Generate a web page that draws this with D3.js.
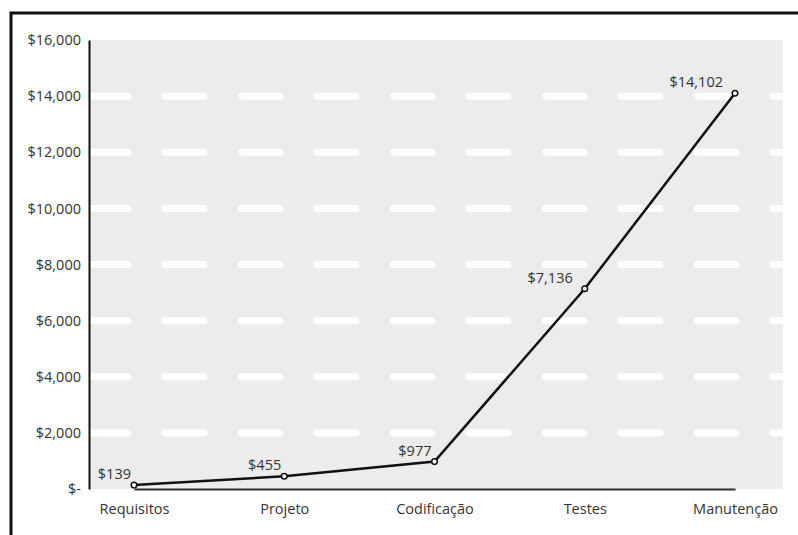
<!DOCTYPE html>
<html>
<head>
<meta charset="utf-8">
<script src="https://cdn.jsdelivr.net/npm/d3@7"></script>
<style>
    body { margin: 0; background: #fff; }
    svg { display: block; }
    text { font-family: "Open Sans", "Noto Sans", sans-serif; fill: #333; }
</style>
</head>
<body>
<svg id="chart" width="798" height="535"></svg>
<script>
// donnees du graphique
const phases = ["Requisitos", "Projeto", "Codificação", "Testes", "Manutenção"];
const costs = [139, 455, 977, 7136, 14102];
const yTicks = [0, 2000, 4000, 6000, 8000, 10000, 12000, 14000, 16000];

const svgWidth = 798, svgHeight = 535;
const margin = { top: 40, bottom: 46, left: 89, right: 15 };
const graphWidth = svgWidth - margin.left - margin.right;
const graphHeight = svgHeight - margin.top - margin.bottom;
const fontFamily = "'Open Sans', 'Noto Sans', sans-serif";

const svg = d3.select("#chart");

// cadre exterieur
svg.append("path")
    .attr("d", `M11,${svgHeight + 5} L11,13 L${svgWidth + 5},13`)
    .attr("fill", "none")
    .attr("stroke", "#111")
    .attr("stroke-width", 3);

const container = svg.append("g")
    .attr("transform", `translate(${margin.left}, ${margin.top})`);

svg.append("clipPath").attr("id", "plotClip")
    .append("rect")
    .attr("x", margin.left).attr("y", margin.top - 10)
    .attr("width", graphWidth).attr("height", graphHeight + 10);

// echelles
const scaleX = d3.scalePoint()
    .domain(phases)
    .range([45, graphWidth - 48]);

const scaleY = d3.scaleLinear()
    .domain([0, 16000])
    .range([graphHeight, 0]);

// fond gris
container.append("rect")
    .attr("width", graphWidth)
    .attr("height", graphHeight)
    .attr("fill", "#ececec");

// lignes horizontales en tirets blancs
const grid = container.append("g").attr("clip-path", "url(#plotClip)")
    .attr("transform", `translate(${-margin.left}, ${-margin.top})`);
grid.selectAll("line")
    .data(yTicks.filter(d => d > 0 && d < 16000))
    .enter()
    .append("line")
    .attr("x1", margin.left)
    .attr("x2", margin.left + graphWidth)
    .attr("y1", d => margin.top + scaleY(d))
    .attr("y2", d => margin.top + scaleY(d))
    .attr("stroke", "#fff")
    .attr("stroke-width", 7)
    .attr("stroke-linecap", "round")
    .attr("stroke-dasharray", "39,37");

// axe Y
const fmt = d => d === 0 ? "$-" : "$" + d3.format(",")(d);
const svgYaxis = container.append("g")
    .call(d3.axisLeft(scaleY).tickValues(yTicks).tickFormat(fmt).tickSize(0).tickPadding(8));
svgYaxis.select(".domain").attr("stroke", "#111").attr("stroke-width", 2);
svgYaxis.selectAll("text")
    .style("font-size", "14.5px")
    .style("font-family", fontFamily)
    .attr("fill", "#333");

// axe X
const svgXaxis = container.append("g")
    .attr("transform", `translate(0, ${graphHeight})`)
    .call(d3.axisBottom(scaleX).tickSize(0).tickPadding(15));
svgXaxis.select(".domain").attr("stroke", "#333").attr("stroke-width", 2);
svgXaxis.selectAll("text")
    .style("font-size", "14.5px")
    .style("font-family", fontFamily)
    .attr("fill", "#333");

// ligne
const valueLine = d3.line()
    .x((d, i) => scaleX(phases[i]))
    .y(d => scaleY(d));

container.append("path")
    .datum(costs)
    .attr("d", valueLine)
    .attr("fill", "none")
    .attr("stroke", "#111")
    .attr("stroke-width", 2.5);

// points
container.selectAll(".pt")
    .data(costs)
    .enter()
    .append("circle")
    .attr("class", "pt")
    .attr("cx", (d, i) => scaleX(phases[i]))
    .attr("cy", d => scaleY(d))
    .attr("r", 2.8)
    .attr("fill", "#fff")
    .attr("stroke", "#111")
    .attr("stroke-width", 1.5);

// etiquettes
container.selectAll(".lbl")
    .data(costs)
    .enter()
    .append("text")
    .attr("class", "lbl")
    .attr("x", (d, i) => scaleX(phases[i]) - (d > 5000 ? 12 : 3))
    .attr("y", d => scaleY(d) - 6)
    .attr("text-anchor", "end")
    .style("font-size", "14.5px")
    .text(d => "$" + d3.format(",")(d));
</script>
</body>
</html>
